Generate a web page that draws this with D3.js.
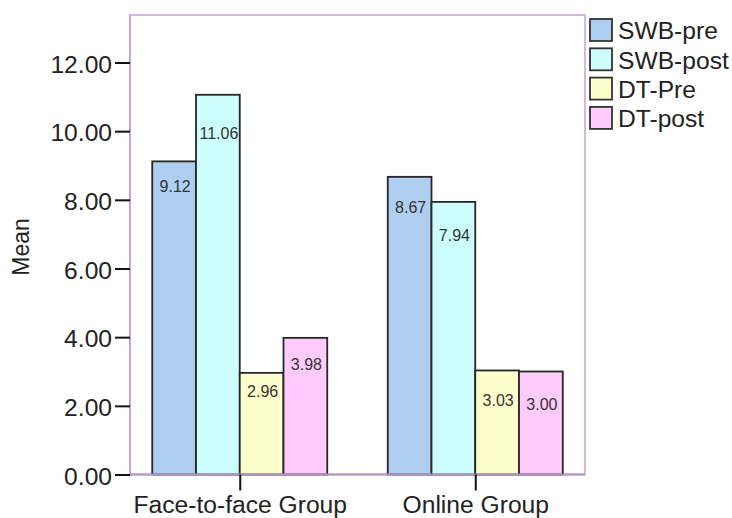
<!DOCTYPE html>
<html>
<head>
<meta charset="utf-8">
<script src="https://cdn.jsdelivr.net/npm/d3@7"></script>
<style>
    body { margin: 0; background: #fff; }
    svg { display: block; font-family: "Liberation Sans", Arial, sans-serif; }
</style>
</head>
<body>
<svg id="chart" width="732" height="518"></svg>
<script>
// data
const groups = ["Face-to-face Group", "Online Group"];
const series = ["SWB-pre", "SWB-post", "DT-Pre", "DT-post"];
const faceToFace = [9.12, 11.06, 2.96, 3.98];
const online = [8.67, 7.94, 3.03, 3.00];
const yTicks = [0, 2, 4, 6, 8, 10, 12];

// label drop inside each bar (px below the top), as placed in the original
const labelDrop = [[25, 39, 19, 27], [31, 34, 30, 33]];

const colors = ["#aecff0", "#ccfefe", "#fefecc", "#fecbfc"];
const frame = { left: 130, right: 585, top: 15, bottom: 474.5 };

const svg = d3.select("#chart");

// stretch text a bit wider, the original is slightly wide
function stretch(sel, k) {
    sel.each(function () {
        const w = this.getComputedTextLength();
        d3.select(this).attr("textLength", w * k).attr("lengthAdjust", "spacingAndGlyphs");
    });
}

const y = d3.scaleLinear().domain([0, 12]).range([frame.bottom, 62.5]);
const x0 = d3.scalePoint().domain(groups).range([frame.left, frame.right]).padding(0.466);
const x1 = d3.scaleBand().domain(series).range([-87.5, 87.5]).padding(0);
const color = d3.scaleOrdinal().domain(series).range(colors);

const rows = groups.map((g, gi) => ({
    group: g,
    values: [faceToFace, online][gi].map((v, si) => ({ series: series[si], value: v, drop: labelDrop[gi][si] }))
}));

// frame
svg.append("rect")
    .attr("x", frame.left).attr("y", frame.top)
    .attr("width", frame.right - frame.left).attr("height", frame.bottom - frame.top)
    .attr("fill", "none").attr("stroke", "#d2b9e0").attr("stroke-width", 2);

// bars
const g = svg.selectAll(".group").data(rows).join("g")
    .attr("class", "group")
    .attr("transform", d => `translate(${x0(d.group)},0)`);

g.selectAll("rect").data(d => d.values).join("rect")
    .attr("x", d => x1(d.series))
    .attr("y", d => y(d.value))
    .attr("width", x1.bandwidth())
    .attr("height", d => y(0) - y(d.value))
    .attr("fill", d => color(d.series))
    .attr("stroke", "#262626").attr("stroke-width", 1.8);

g.selectAll(".val").data(d => d.values).join("text")
    .attr("class", "val")
    .attr("x", d => x1(d.series) + x1.bandwidth() / 2 + 1)
    .attr("y", d => y(d.value) + d.drop)
    .attr("dy", "0.35em")
    .attr("text-anchor", "middle")
    .attr("font-size", 16)
    .attr("fill", "#333")
    .text(d => d.value.toFixed(2));

// bottom axis line over bar edges
svg.append("line")
    .attr("x1", frame.left).attr("x2", frame.right)
    .attr("y1", frame.bottom).attr("y2", frame.bottom)
    .attr("stroke", "#b595c6").attr("stroke-width", 2);
svg.append("line")
    .attr("x1", frame.left).attr("x2", frame.left)
    .attr("y1", frame.top).attr("y2", frame.bottom)
    .attr("stroke", "#c3a6d3").attr("stroke-width", 2);

// y axis
const yAxis = svg.append("g")
    .attr("transform", `translate(${frame.left},0)`)
    .call(d3.axisLeft(y).tickValues(yTicks).tickFormat(d3.format(".2f")).tickSize(15).tickPadding(3));
yAxis.select(".domain").remove();
yAxis.selectAll(".tick line").attr("stroke", "#111").attr("stroke-width", 2);
yAxis.selectAll(".tick text")
    .attr("font-size", 23).attr("fill", "#222").attr("font-family", null)
    .attr("dy", "0.42em")
    .call(stretch, 1.07);

// x axis
const xAxis = svg.append("g")
    .attr("transform", `translate(0,${frame.bottom})`)
    .call(d3.axisBottom(x0).tickSize(16).tickPadding(6));
xAxis.select(".domain").remove();
xAxis.selectAll(".tick line").attr("stroke", "#111").attr("stroke-width", 2);
xAxis.selectAll(".tick text")
    .attr("font-size", 23).attr("fill", "#222").attr("font-family", null)
    .call(stretch, 1.07);

// y title
svg.append("text")
    .attr("transform", "translate(29,247) rotate(-90)")
    .attr("text-anchor", "middle")
    .attr("font-size", 23).attr("fill", "#222")
    .text("Mean");

// legend
const legend = svg.append("g").attr("transform", "translate(590,19)");
const item = legend.selectAll("g").data(series).join("g")
    .attr("transform", (d, i) => `translate(0,${i * 29.3})`);
item.append("rect")
    .attr("width", 22).attr("height", 22)
    .attr("fill", d => color(d))
    .attr("stroke", "#333").attr("stroke-width", 1.8);
item.append("text")
    .attr("x", 28).attr("y", 12).attr("dy", "0.36em")
    .attr("font-size", 23).attr("fill", "#222")
    .text(d => d)
    .call(stretch, 1.07);
</script>
</body>
</html>
